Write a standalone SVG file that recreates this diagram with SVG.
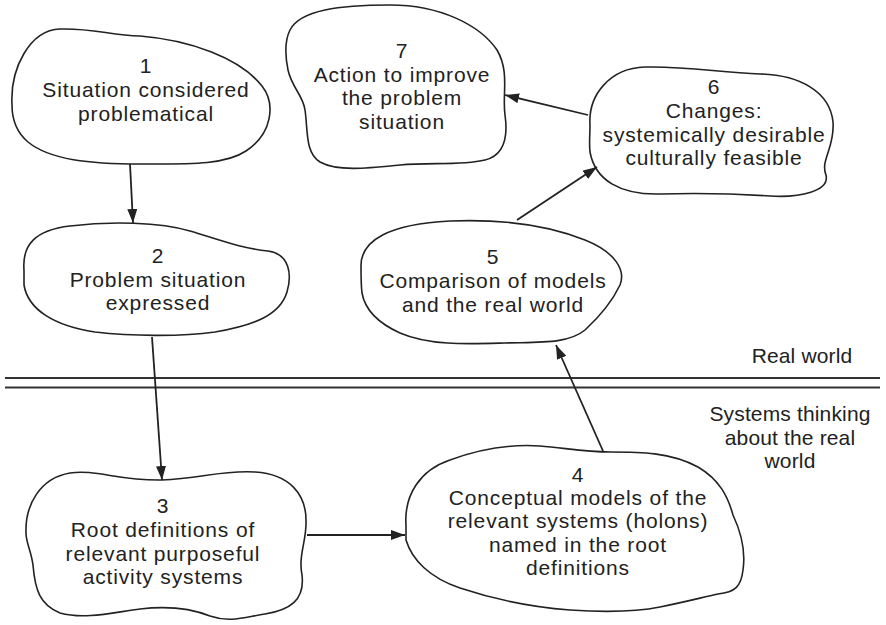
<svg xmlns="http://www.w3.org/2000/svg" width="886" height="625" viewBox="0 0 886 625">
<defs>
<style>
.blob{fill:none;stroke:#222;stroke-width:1.6;stroke-linejoin:round}
.t{font-family:"Liberation Sans",Arial,sans-serif;font-size:21px;fill:#222;text-anchor:middle;letter-spacing:0.85px}
.s{font-family:"Liberation Sans",Arial,sans-serif;font-size:21px;fill:#222;text-anchor:middle;letter-spacing:0.15px}
.c{stroke:#222;stroke-width:1.8;fill:none}
.sep{stroke:#333;stroke-width:2}
</style>
<marker id="ah" viewBox="0 0 14 10" refX="14" refY="5" markerWidth="14" markerHeight="10" orient="auto" markerUnits="userSpaceOnUse">
<path d="M0,0 L14,5 L0,10 Z" fill="#222"/>
</marker>
</defs>
<rect width="886" height="625" fill="#fff"/>

<g id="node1">
<path class="blob" d="M12,105 C10,68 30,30 60,29 C92,28 110,35 140,36 C190,40 240,58 262,86 C276,104 272,134 246,151 C225,165 190,164 140,164 C90,164 50,160 28,142 C15,131 12,118 12,105 Z"/>
<text class="t" x="146" y="73">1</text>
<text class="t" x="146" y="97">Situation considered</text>
<text class="t" x="146" y="121">problematical</text>
</g>

<g id="node7">
<path class="blob" d="M290,30 C300,10 340,5 390,5 C440,5 480,25 497,50 C510,72 502,95 505,115 C508,136 505,155 485,160 C460,166 430,162 400,165 C370,168 338,172 320,162 C305,153 308,130 305,110 C303,95 292,88 288,70 C285,55 285,40 290,30 Z"/>
<text class="t" x="402" y="58">7</text>
<text class="t" x="402" y="82">Action to improve</text>
<text class="t" x="402" y="105">the problem</text>
<text class="t" x="402" y="129">situation</text>
</g>

<g id="node6">
<path class="blob" d="M590,125 C588,95 610,68 645,67 C690,66 720,73 760,74 C800,75 830,92 833,122 C835,148 820,160 826,175 C830,191 800,198 770,196 C740,194 700,193 660,194 C620,195 595,180 590,152 C589,143 590,134 590,125 Z"/>
<text class="t" x="714" y="94">6</text>
<text class="t" x="714" y="118">Changes:</text>
<text class="t" x="714" y="142">systemically desirable</text>
<text class="t" x="714" y="165">culturally feasible</text>
</g>

<g id="node5">
<path class="blob" d="M361,267 C360,240 390,224 450,221 C500,219 545,224 585,240 C615,252 626,270 620,285 C612,302 598,318 585,330 C568,344 540,342 505,343 C470,344 430,346 400,333 C378,323 365,310 362,293 C361,285 361,276 361,267 Z"/>
<text class="t" x="493" y="264">5</text>
<text class="t" x="493" y="288">Comparison of models</text>
<text class="t" x="493" y="312">and the real world</text>
</g>

<g id="node2">
<path class="blob" d="M24,270 C22,245 35,230 70,226 C110,221 160,222 190,231 C220,240 240,248 268,251 C290,254 292,275 287,292 C280,315 255,325 215,332 C180,337 130,336 95,332 C55,326 28,310 24,285 Z"/>
<text class="t" x="158" y="263">2</text>
<text class="t" x="158" y="287">Problem situation</text>
<text class="t" x="158" y="310">expressed</text>
</g>

<g id="node3">
<path class="blob" d="M26,533 C25,505 40,478 70,473 C95,469 120,481 162,480 C200,479 220,470 255,472 C290,474 306,495 306,520 C307,540 298,555 302,575 C305,600 290,610 265,614 C245,617 230,623 210,616 C190,608 165,606 140,609 C115,612 85,620 60,613 C40,605 35,590 33,565 C31,550 26,543 26,533 Z"/>
<text class="t" x="163" y="513">3</text>
<text class="t" x="163" y="537">Root definitions of</text>
<text class="t" x="163" y="561">relevant purposeful</text>
<text class="t" x="163" y="584">activity systems</text>
</g>

<g id="node4">
<path class="blob" d="M406,525 C404,495 420,470 450,460 C480,449 510,444 540,446 C565,448 585,452 610,452 C640,452 670,452 698,467 C720,480 728,497 733,515 C740,530 746,550 743,570 C741,587 735,592 718,594 C700,598 685,602 660,607 C635,612 600,612 570,610 C530,607 490,598 460,588 C430,578 412,560 406,540 Z"/>
<text class="t" x="578" y="482">4</text>
<text class="t" x="578" y="505">Conceptual models of the</text>
<text class="t" x="578" y="528">relevant systems (holons)</text>
<text class="t" x="578" y="552">named in the root</text>
<text class="t" x="578" y="575">definitions</text>
</g>

<g id="boundary">
<line class="sep" x1="5" y1="378" x2="880" y2="378"/>
<line class="sep" x1="5" y1="387.5" x2="880" y2="387.5"/>
<text class="s" x="802" y="363">Real world</text>
<text class="s" x="790" y="421">Systems thinking</text>
<text class="s" x="790" y="445">about the real</text>
<text class="s" x="790" y="468">world</text>
</g>

<g id="connectors">
<line class="c" x1="130" y1="164" x2="133" y2="223" marker-end="url(#ah)"/>
<line class="c" x1="152" y1="337" x2="162" y2="480" marker-end="url(#ah)"/>
<line class="c" x1="307" y1="535" x2="405" y2="535" marker-end="url(#ah)"/>
<line class="c" x1="603" y1="451" x2="556" y2="345" marker-end="url(#ah)"/>
<line class="c" x1="517" y1="220" x2="597" y2="167" marker-end="url(#ah)"/>
<line class="c" x1="588" y1="115" x2="505" y2="95" marker-end="url(#ah)"/>
</g>
</svg>
